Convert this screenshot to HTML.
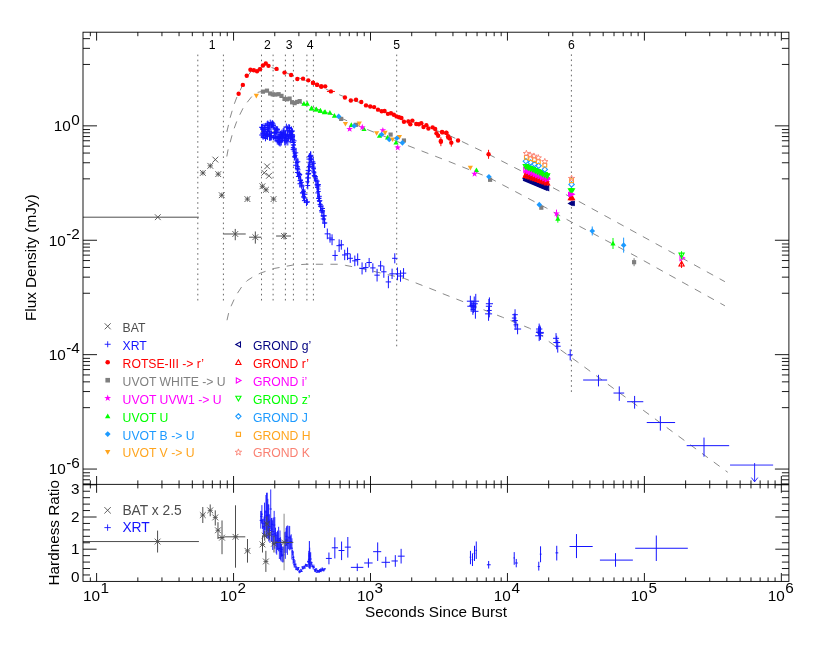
<!DOCTYPE html>
<html><head><meta charset="utf-8"><title>GRB light curve</title>
<style>html,body{margin:0;padding:0;background:#fff}body{width:830px;height:646px;overflow:hidden;font-family:"Liberation Sans",sans-serif}</style>
</head><body>
<svg width="830" height="646" viewBox="0 0 830 646" style="display:block;will-change:transform;opacity:0.999">
<rect width="830" height="646" fill="#ffffff"/>
<g stroke="#6a6a6a" stroke-width="1" stroke-dasharray="1.6 3.49" fill="none">
<line x1="197.8" y1="300.5" x2="197.8" y2="54.0"/>
<line x1="223.4" y1="300.5" x2="223.4" y2="54.0"/>
<line x1="261.5" y1="300.5" x2="261.5" y2="54.0"/>
<line x1="273.1" y1="300.5" x2="273.1" y2="54.0"/>
<line x1="285.4" y1="300.5" x2="285.4" y2="54.0"/>
<line x1="293.4" y1="300.5" x2="293.4" y2="54.0"/>
<line x1="306.9" y1="300.5" x2="306.9" y2="54.0"/>
<line x1="313.4" y1="300.5" x2="313.4" y2="54.0"/>
<line x1="396.7" y1="346.3" x2="396.7" y2="54.0"/>
<line x1="571.4" y1="391.9" x2="571.4" y2="54.0"/>
</g>
<path d="M226.8 132 L228.6 124.6 L230.1 117.8 L232.1 111 L234.2 104.2 L237 96.8 L238.63 93.68 L242.85 84.58 L246.73 76.99 L250.78 71.93 L255.84 69.23 L260.9 67.2 L265.79 65.85" fill="none" stroke="#7c7c7c" stroke-width="0.9" stroke-dasharray="7.3 7.3" stroke-dashoffset="0"/>
<path d="M265.79 65.85 L271.02 67.37 L276.58 69.23 L284.51 71.93 L291.09 74.96 L303.06 79.52 L317.06 84.74 L330.91 91.42 L344.91 96.99 L366 104.91 L396.52 115.88 L428.4 127.35 L449.99 135.78 L458.05 139.64 L488.57 154.31 L524.33 172.52 L579.99 202.04 L634.93 232.17 L724.91 281.68" fill="none" stroke="#7c7c7c" stroke-width="0.9" stroke-dasharray="7.3 7.3" stroke-dashoffset="-5.95"/>
<path d="M226.8 156.5 L228 150 L230.1 142.5 L232.1 135.1 L234.2 128.3 L236.7 121.5 L239.8 114.7 L243.2 107.9 L247.2 102.3 L251.9 96.4 L256.68 92.67 L261.4 91.49 L266.97 91.32 L272.7 93.51 L281.47 96.38 L294.63 101.44 L303.91 103.97 L324.32 111.73 L334.46 115.2 L363.97 128.19 L397.7 141.68 L449.99 161.92 L488.91 177.58 L546.26 207.94 L571.51 222.05 L634.93 255.78 L724.91 305.8" fill="none" stroke="#7c7c7c" stroke-width="0.9" stroke-dasharray="7.3 7.3" stroke-dashoffset="0"/>
<path d="M226.99 320.23 L228.67 312.98 L231.2 305.9 L234.24 299.15 L237.44 293.25 L242.17 286.16 L247.23 280.6 L253.97 276.21 L260.72 273.01 L274.21 268.46 L292.76 265.08 L306.26 264.24 L338.3 264.24 L345.54 265.39 L359.03 267.92 L404.57 278.55 L434.93 290.35 L441.69 293.28 L461.93 301.2 L502.41 317.23 L529.39 328.19 L541.2 334.94 L547.94 340.84 L577.46 361.92 L727.73 472.28" fill="none" stroke="#7c7c7c" stroke-width="0.9" stroke-dasharray="7.3 7.3" stroke-dashoffset="0"/>
<line x1="83" y1="217.2" x2="198.8" y2="217.2" stroke="#4d4d4d" stroke-width="1"/>
<path d="M154.9 214.3L160.7 220.1M154.9 220.1L160.7 214.3" stroke="#4d4d4d" stroke-width="0.9" fill="none"/>
<path d="M199.98 170.04L205.78 175.84M199.98 175.84L205.78 170.04" stroke="#4d4d4d" stroke-width="0.9" fill="none"/>
<path d="M200.28 172.94L205.48 172.94M202.88 170.34L202.88 175.54" stroke="#4d4d4d" stroke-width="0.8" fill="none"/>
<path d="M207.4 162.95L213.2 168.75M207.4 168.75L213.2 162.95" stroke="#4d4d4d" stroke-width="0.9" fill="none"/>
<path d="M207.7 165.85L212.9 165.85M210.3 163.25L210.3 168.45" stroke="#4d4d4d" stroke-width="0.8" fill="none"/>
<path d="M212.46 156.71L218.26 162.51M212.46 162.51L218.26 156.71" stroke="#4d4d4d" stroke-width="0.9" fill="none"/>
<path d="M215.33 171.22L221.13 177.02M215.33 177.02L221.13 171.22" stroke="#4d4d4d" stroke-width="0.9" fill="none"/>
<path d="M215.63 174.12L220.83 174.12M218.23 171.52L218.23 176.72" stroke="#4d4d4d" stroke-width="0.8" fill="none"/>
<path d="M218.87 192.3L224.67 198.1M218.87 198.1L224.67 192.3" stroke="#4d4d4d" stroke-width="0.9" fill="none"/>
<path d="M219.17 195.2L224.37 195.2M221.77 192.6L221.77 197.8" stroke="#4d4d4d" stroke-width="0.8" fill="none"/>
<path d="M244.51 196.18L250.31 201.98M244.51 201.98L250.31 196.18" stroke="#4d4d4d" stroke-width="0.9" fill="none"/>
<path d="M244.81 199.08L250.01 199.08M247.41 196.48L247.41 201.68" stroke="#4d4d4d" stroke-width="0.8" fill="none"/>
<path d="M264.24 163.46L270.04 169.26M264.24 169.26L270.04 163.46" stroke="#4d4d4d" stroke-width="0.9" fill="none"/>
<path d="M261.37 169.87L267.17 175.67M261.37 175.67L267.17 169.87" stroke="#4d4d4d" stroke-width="0.9" fill="none"/>
<path d="M266.09 172.91L271.89 178.71M266.09 178.71L271.89 172.91" stroke="#4d4d4d" stroke-width="0.9" fill="none"/>
<path d="M259.52 183.36L265.32 189.16M259.52 189.16L265.32 183.36" stroke="#4d4d4d" stroke-width="0.9" fill="none"/>
<path d="M259.82 186.26L265.02 186.26M262.42 183.66L262.42 188.86" stroke="#4d4d4d" stroke-width="0.8" fill="none"/>
<path d="M263.06 186.9L268.86 192.7M263.06 192.7L268.86 186.9" stroke="#4d4d4d" stroke-width="0.9" fill="none"/>
<path d="M263.36 189.8L268.56 189.8M265.96 187.2L265.96 192.4" stroke="#4d4d4d" stroke-width="0.8" fill="none"/>
<path d="M270.65 196.18L276.45 201.98M270.65 201.98L276.45 196.18" stroke="#4d4d4d" stroke-width="0.9" fill="none"/>
<path d="M270.95 199.08L276.15 199.08M273.55 196.48L273.55 201.68" stroke="#4d4d4d" stroke-width="0.8" fill="none"/>
<line x1="223.46" y1="233.99" x2="245.72" y2="233.99" stroke="#4d4d4d" stroke-width="1"/>
<line x1="235.26" y1="228.93" x2="235.26" y2="240.23" stroke="#4d4d4d" stroke-width="1"/>
<path d="M232.36 231.09L238.16 236.89M232.36 236.89L238.16 231.09" stroke="#4d4d4d" stroke-width="0.9" fill="none"/>
<line x1="249.09" y1="237.2" x2="261.4" y2="237.2" stroke="#4d4d4d" stroke-width="1"/>
<line x1="255.33" y1="231.46" x2="255.33" y2="243.61" stroke="#4d4d4d" stroke-width="1"/>
<path d="M252.43 234.3L258.23 240.1M252.43 240.1L258.23 234.3" stroke="#4d4d4d" stroke-width="0.9" fill="none"/>
<line x1="276.08" y1="236.02" x2="290.92" y2="236.02" stroke="#4d4d4d" stroke-width="1"/>
<line x1="284" y1="232.64" x2="284" y2="239.39" stroke="#4d4d4d" stroke-width="1"/>
<path d="M281.1 233.12L286.9 238.92M281.1 238.92L286.9 233.12" stroke="#4d4d4d" stroke-width="0.9" fill="none"/>
<g stroke="#1414ff" stroke-width="1" fill="none">
<path d="M259.2 135H263.35M261.27 132.47V137.53"/>
<path d="M259.12 127.25H264.14M261.63 123.97V130.53"/>
<path d="M259.75 127.47H263.93M261.84 123.95V130.99"/>
<path d="M260.07 128.76H264.51M262.29 123.87V133.65"/>
<path d="M260.29 133.2H265.09M262.69 127.88V138.51"/>
<path d="M260.84 137.61H265.42M263.13 135.44V139.77"/>
<path d="M260.43 129.5H266.06M263.25 127.09V131.92"/>
<path d="M261.23 133.8H265.97M263.6 129.77V137.84"/>
<path d="M261.84 125.41H266.25M264.05 123.19V127.63"/>
<path d="M261.84 129.46H267.02M264.43 125.96V132.95"/>
<path d="M262.01 135.86H267.41M264.71 132.81V138.91"/>
<path d="M262.13 132.02H267.88M265 128.01V136.03"/>
<path d="M263.36 138.32H267.6M265.48 135.31V141.33"/>
<path d="M263.25 127.47H268.23M265.74 122.82V132.12"/>
<path d="M263.41 134.61H268.55M265.98 130.27V138.95"/>
<path d="M263.96 134.02H269.15M266.56 130.92V137.11"/>
<path d="M263.87 135.75H269.76M266.82 132.15V139.34"/>
<path d="M264.43 125.61H269.84M267.13 121.29V129.94"/>
<path d="M265.24 134.38H269.81M267.53 128.91V139.86"/>
<path d="M265.34 124.87H270.26M267.8 120.53V129.21"/>
<path d="M265.32 123.84H270.85M268.09 121.43V126.25"/>
<path d="M265.55 129.03H271.29M268.42 126.17V131.9"/>
<path d="M265.87 131.28H271.63M268.75 127.7V134.85"/>
<path d="M266.89 127.79H271.72M269.3 122.76V132.81"/>
<path d="M267.37 135.76H271.67M269.52 130.66V140.85"/>
<path d="M267.33 126.12H272.3M269.81 123.3V128.93"/>
<path d="M267.85 122.54H272.69M270.27 119.62V125.46"/>
<path d="M267.87 136.67H273.25M270.56 132.69V140.65"/>
<path d="M268.89 132.97H273M270.94 128.81V137.14"/>
<path d="M268.6 135.64H274.19M271.39 130.91V140.37"/>
<path d="M268.96 124.81H274.23M271.6 121.42V128.21"/>
<path d="M269.69 125.97H274.02M271.85 123.73V128.2"/>
<path d="M270.12 122.46H274.43M272.27 120.28V124.65"/>
<path d="M269.68 123.81H275.43M272.55 120.54V127.08"/>
<path d="M270.69 127.28H275.39M273.04 124.76V129.8"/>
<path d="M270.32 137.75H276.31M273.32 135.32V140.18"/>
<path d="M271.59 125.41H275.79M273.69 121.71V129.1"/>
<path d="M271.84 137.54H276.16M274 134.62V140.47"/>
<path d="M272.11 132.48H276.4M274.26 127.15V137.81"/>
<path d="M271.77 132.86H277.73M274.75 130.77V134.96"/>
<path d="M272.81 128.98H277.55M275.18 124.55V133.42"/>
<path d="M272.55 133.09H278.11M275.33 128.39V137.79"/>
<path d="M272.74 138.33H278.71M275.72 135.55V141.11"/>
<path d="M273.47 137.7H278.95M276.21 132.88V142.53"/>
<path d="M274.36 130.75H278.41M276.38 126.94V134.56"/>
<path d="M273.98 128.96H279.37M276.68 125.99V131.94"/>
<path d="M274.29 140.98H280.26M277.28 137.42V144.55"/>
<path d="M275.39 129.61H279.85M277.62 126.33V132.89"/>
<path d="M274.86 136.5H280.66M277.76 133.78V139.21"/>
<path d="M275.48 137.36H281.08M278.28 133.69V141.04"/>
<path d="M275.63 140.62H281.2M278.42 136.31V144.93"/>
<path d="M276.16 132.31H281.73M278.95 128.64V135.98"/>
<path d="M276.78 141.3H281.57M279.18 136.5V146.1"/>
<path d="M277.37 139.03H281.71M279.54 133.72V144.35"/>
<path d="M277 142.44H282.62M279.81 139.91V144.97"/>
<path d="M277.5 141.64H282.82M280.16 136.75V146.53"/>
<path d="M278.55 134.68H282.57M280.56 130.76V138.6"/>
<path d="M278.14 138.09H284.01M281.08 133.81V142.36"/>
<path d="M279.06 140.5H283.49M281.27 135.45V145.55"/>
<path d="M278.98 134.46H284.16M281.57 131.44V137.49"/>
<path d="M279.01 133.05H284.83M281.92 129.58V136.51"/>
<path d="M279.38 138.28H285.19M282.29 134.67V141.88"/>
<path d="M280.12 137.01H285.18M282.65 131.8V142.22"/>
<path d="M280.84 135.8H285.21M283.02 133.74V137.87"/>
<path d="M280.75 132.91H285.7M283.23 128.11V137.7"/>
<path d="M281.25 133.86H286.29M283.77 129.91V137.81"/>
<path d="M281.51 131.1H286.63M284.07 126.36V135.85"/>
<path d="M281.82 139.88H286.84M284.33 136.91V142.85"/>
<path d="M282.32 140.76H287.2M284.76 136.1V145.42"/>
<path d="M282.43 135.26H287.81M285.12 131.49V139.03"/>
<path d="M282.48 134.51H288.36M285.42 130.64V138.38"/>
<path d="M283.57 140.53H288.09M285.83 135.46V145.59"/>
<path d="M284 138.88H288.28M286.14 133.58V144.18"/>
<path d="M284.12 127.21H288.61M286.36 123.66V130.76"/>
<path d="M283.8 138.47H289.59M286.7 134.12V142.81"/>
<path d="M284.92 136.59H289.21M287.06 132.08V141.1"/>
<path d="M284.66 130.86H290.56M287.61 125.47V136.25"/>
<path d="M284.99 141.75H290.65M287.82 138.05V145.46"/>
<path d="M285.76 134.66H290.44M288.1 131.15V138.17"/>
<path d="M286.44 137.91H290.48M288.46 134.8V141.03"/>
<path d="M286.57 127.55H291.23M288.9 124V131.09"/>
<path d="M286.28 128.55H292.25M289.26 124.76V132.35"/>
<path d="M287.39 130.29H291.92M289.66 124.89V135.7"/>
<path d="M287.66 131.9H291.92M289.79 127.17V136.63"/>
<path d="M287.99 138.15H292.5M290.24 132.96V143.34"/>
<path d="M287.81 135.65H293.21M290.51 130.43V140.86"/>
<path d="M288.42 138H293.27M290.84 135.8V140.21"/>
<path d="M288.38 136.77H293.98M291.18 131.49V142.06"/>
<path d="M288.67 131.48H294.39M291.53 126.48V136.47"/>
<path d="M289.05 136.78H294.91M291.98 133.59V139.96"/>
<path d="M290.03 136.72H294.51M292.27 134.27V139.18"/>
<path d="M290.37 130.9H294.78M292.57 128.34V133.47"/>
<path d="M289.62 134.61H294.84M292.23 131.6V137.63"/>
<path d="M290.58 135.69H295.13M292.86 133.44V137.94"/>
<path d="M289.85 136.66H295.02M292.43 132.92V140.41"/>
<path d="M289.71 139.5H295.21M292.46 137V142"/>
<path d="M291.75 140.83H296.54M294.15 136.29V145.37"/>
<path d="M290.75 142.51H295.85M293.3 137.56V147.47"/>
<path d="M290.79 144.95H295.92M293.35 140.97V148.93"/>
<path d="M291.64 144.95H295.73M293.68 142.39V147.52"/>
<path d="M290.88 147.59H295.29M293.09 144.93V150.25"/>
<path d="M290.63 149.35H296.03M293.33 145.27V153.42"/>
<path d="M291.78 149H296.25M294.01 145.52V152.49"/>
<path d="M291.71 151.07H296.13M293.92 146.18V155.96"/>
<path d="M293.89 152.83H298.28M296.08 147.92V157.73"/>
<path d="M292.7 153.71H296.7M294.7 150.44V156.98"/>
<path d="M293.14 155.6H297.47M295.3 151.99V159.22"/>
<path d="M292.31 156.34H296.46M294.38 153.02V159.66"/>
<path d="M292.44 157.07H296.92M294.68 154.22V159.92"/>
<path d="M293.63 160.04H298.83M296.23 156V164.08"/>
<path d="M294.52 162.53H299.14M296.83 159.42V165.64"/>
<path d="M295.18 161.78H300.34M297.76 157.78V165.78"/>
<path d="M293.08 165.28H298.51M295.79 161.33V169.24"/>
<path d="M295.62 166.65H299.85M297.74 162.99V170.32"/>
<path d="M294.83 168.16H300.12M297.47 163.65V172.68"/>
<path d="M295.41 169.78H300.5M297.95 165.64V173.92"/>
<path d="M295.28 168.63H299.5M297.39 165.42V171.84"/>
<path d="M294.93 172.49H299.83M297.38 168.53V176.45"/>
<path d="M296.55 173.46H301.33M298.94 171.25V175.67"/>
<path d="M297.26 175.1H302.06M299.66 171.4V178.8"/>
<path d="M297.04 174.49H302.22M299.63 171.58V177.4"/>
<path d="M295.95 176.52H301.12M298.54 173.75V179.3"/>
<path d="M298.05 180.09H302.84M300.44 176.82V183.36"/>
<path d="M297.51 180.65H302.74M300.12 176.73V184.58"/>
<path d="M298.71 180.27H302.94M300.83 177.36V183.18"/>
<path d="M298.92 182.39H303.83M301.37 180.15V184.62"/>
<path d="M297.51 183.72H302.58M300.04 179.58V187.86"/>
<path d="M299.44 185.22H304.27M301.85 181.71V188.72"/>
<path d="M299.06 186.11H304.49M301.77 183.35V188.86"/>
<path d="M301.41 189.97H305.44M303.42 186.48V193.45"/>
<path d="M301.11 191.47H305.83M303.47 188.52V194.42"/>
<path d="M300.26 192.81H304.59M302.42 188.98V196.64"/>
<path d="M299.92 192.95H305.45M302.68 190.38V195.52"/>
<path d="M302.02 194.31H307.44M304.73 190.14V198.48"/>
<path d="M301.36 196.89H306.14M303.75 194.62V199.16"/>
<path d="M301.32 197.06H306.04M303.68 194.01V200.1"/>
<path d="M302.23 198.01H306.74M304.48 193.45V202.56"/>
<path d="M301.95 200.62H307.3M304.63 198.08V203.15"/>
<path d="M304.6 201.89H310.04M307.32 198.88V204.91"/>
<path d="M303.67 202.32H309.27M306.47 198.47V206.17"/>
<path d="M305.33 185.53H310.19M307.76 181.71V189.36"/>
<path d="M305.35 181.75H309.55M307.45 176.24V187.25"/>
<path d="M305.08 177.96H310.95M308.02 174.21V181.71"/>
<path d="M305.66 174.18H310.69M308.18 170.61V177.75"/>
<path d="M305.65 170.4H311.56M308.61 164.74V176.05"/>
<path d="M306.95 166.62H312.21M309.58 160.88V172.36"/>
<path d="M307.51 162.84H312.61M310.06 157.68V168"/>
<path d="M306.41 159.08H311.87M309.14 154.73V163.44"/>
<path d="M308.16 155.33H313.45M310.8 151.47V159.19"/>
<path d="M305.59 173.45H311.19M308.39 163.45V183.45"/>
<path d="M315.25 184.52H320.85M318.05 179.52V189.52"/>
<path d="M307.3 156.61H311.51M309.41 153.09V160.13"/>
<path d="M307.93 156.36H313.11M310.52 151.43V161.29"/>
<path d="M308.56 159.07H313.05M310.8 155.31V162.83"/>
<path d="M309.44 159.24H313.7M311.57 156.46V162.02"/>
<path d="M310.98 161.86H315.34M313.16 157.12V166.6"/>
<path d="M311.64 163.37H315.87M313.75 160.63V166.11"/>
<path d="M310.05 164.71H314.2M312.12 161.84V167.58"/>
<path d="M310.14 167.05H315.56M312.85 162.75V171.35"/>
<path d="M311.14 168.25H315.98M313.56 164.99V171.5"/>
<path d="M311.53 168.85H315.98M313.75 163.94V173.76"/>
<path d="M311.15 171.84H316.15M313.65 167.22V176.45"/>
<path d="M312.01 172.8H316.41M314.21 169.48V176.12"/>
<path d="M312.35 176.52H317.7M315.03 171.88V181.16"/>
<path d="M311.84 175.43H316.97M314.4 170.72V180.13"/>
<path d="M313.71 178.76H317.71M315.71 175.46V182.06"/>
<path d="M314.33 181.15H319.7M317.01 176.23V186.07"/>
<path d="M313.71 180.67H317.96M315.83 177.01V184.33"/>
<path d="M314.52 184.84H319.67M317.1 180.83V188.85"/>
<path d="M315.15 185.06H320.03M317.59 182.75V187.37"/>
<path d="M315.2 186.05H320.67M317.94 182.05V190.06"/>
<path d="M315.02 187.41H319.42M317.22 183.42V191.39"/>
<path d="M316.39 189.02H320.5M318.45 185.35V192.69"/>
<path d="M316.37 191.51H320.73M318.55 187.63V195.39"/>
<path d="M315.28 192.91H320.01M317.65 188.03V197.8"/>
<path d="M317.02 196.32H321.78M319.4 193.46V199.18"/>
<path d="M316.31 198.21H321.44M318.88 195.15V201.27"/>
<path d="M316.2 198.49H321.28M318.74 195.11V201.86"/>
<path d="M316.87 200.66H322.35M319.61 197.82V203.49"/>
<path d="M317.14 201.33H321.81M319.48 197.22V205.44"/>
<path d="M317.58 204.38H322.76M320.17 200.76V207.99"/>
<path d="M318.27 206.56H322.77M320.52 202.06V211.06"/>
<path d="M318.3 205.98H323.52M320.91 202.96V209.01"/>
<path d="M320.68 208.47H324.98M322.83 205.65V211.3"/>
<path d="M319.23 210.65H324.74M321.99 208.04V213.26"/>
<path d="M319.49 210.96H325.05M322.27 208.36V213.55"/>
<path d="M319.53 212.17H324.16M321.85 207.45V216.88"/>
<path d="M321.28 215.83H326.88M324.08 211.03V220.64"/>
<path d="M320.52 215.84H326.02M323.27 211.55V220.13"/>
<path d="M320.73 218.93H325.33M323.03 215.68V222.17"/>
<path d="M322.1 219.09H326.1M324.1 216.11V222.07"/>
<path d="M322.46 223.1H326.66M324.56 218.2V228"/>
<path d="M322 222.95H327.31M324.65 218.45V227.45"/>
<path d="M324.62 233.85H330.02M327.32 228.49V239.22"/>
<path d="M327.32 238.07H332.72M330.02 233.47V242.67"/>
<path d="M329.35 239.76H334.75M332.05 234.31V245.2"/>
<path d="M332.38 255.44H337.78M335.08 250.2V260.69"/>
<path d="M336.43 245.66H341.83M339.13 239.32V252"/>
<path d="M338.62 244.82H344.02M341.32 239.93V249.7"/>
<path d="M342 254.94H347.4M344.7 249.71V260.16"/>
<path d="M344.86 253.75H350.26M347.56 247.46V260.05"/>
<path d="M347.56 258.31H352.96M350.26 253.75V262.87"/>
<path d="M352.12 260.84H357.52M354.82 255.52V266.16"/>
<path d="M354.98 259.49H360.38M357.68 253.37V265.61"/>
<path d="M359.37 268.43H364.77M362.07 262.39V274.46"/>
<path d="M363.08 267.58H368.48M365.78 263V272.17"/>
<path d="M366.45 262.52H371.85M369.15 257.96V267.09"/>
<path d="M370.16 267.92H375.56M372.86 263.3V272.55"/>
<path d="M374.38 275.17H379.78M377.08 268.83V281.51"/>
<path d="M377.92 265.9H383.32M380.62 260.88V270.91"/>
<path d="M381.13 271.8H386.53M383.83 265.81V277.8"/>
<path d="M385.68 281.92H391.08M388.38 275.62V288.22"/>
<path d="M389.39 273.83H394.79M392.09 268.65V279"/>
<path d="M392.09 258.31H397.49M394.79 253.26V263.35"/>
<path d="M394.79 273.83H400.19M397.49 267.41V280.24"/>
<path d="M397.82 276.02H403.22M400.52 270.28V281.75"/>
<path d="M400.86 273.15H406.26M403.56 268.13V278.17"/>
<path d="M466.87 301.2H473.85M470.36 295.75V306.65"/>
<path d="M469.35 305.42H474.74M472.05 300.91V309.93"/>
<path d="M470.68 303.73H477.8M474.24 296.48V310.98"/>
<path d="M472.42 301.2H479.1M475.76 293.87V308.53"/>
<path d="M470.65 309.64H475.13M472.89 304.43V314.84"/>
<path d="M472.36 311.32H478.47M475.42 303.95V318.69"/>
<path d="M467.29 306.26H475.12M471.2 300.6V311.92"/>
<path d="M470.74 307.11H476.05M473.4 301.32V312.9"/>
<path d="M485.82 306.26H492M488.91 298.98V313.55"/>
<path d="M486.72 310.48H491.78M489.25 303.57V317.39"/>
<path d="M485.05 313.85H492.1M488.57 306.88V320.82"/>
<path d="M485.83 303.73H493.01M489.42 297.41V310.05"/>
<path d="M512.26 314.7H517.84M515.05 309.24V320.15"/>
<path d="M512.2 320.6H517.91M515.05 313.75V327.45"/>
<path d="M513.56 324.82H518.24M515.9 319.72V329.91"/>
<path d="M514.03 329.03H521.14M517.58 323.79V334.27"/>
<path d="M511.89 318.07H516.53M514.21 313.47V322.67"/>
<path d="M535.98 329.03H542.37M539.17 323.55V334.51"/>
<path d="M535.88 332.41H543.81M539.85 325.25V339.56"/>
<path d="M535.2 335.78H543.15M539.17 330.48V341.07"/>
<path d="M536.32 331.06H541.02M538.67 326.27V335.85"/>
<path d="M537.43 333.25H543.62M540.52 326.62V339.88"/>
<path d="M553.04 338.31H559.04M556.04 333.11V343.51"/>
<path d="M554.78 346.24H560.68M557.73 339.87V352.6"/>
<path d="M553.3 342.52H560.13M556.71 335.78V349.27"/>
<path d="M567.61 354.84H572.81M570.21 349.34V360.34"/>
<path d="M583.13 380.03H607.14M598.46 374.82V386.39"/>
<path d="M613.5 393.04H624.2M619.28 386.39V400.85"/>
<path d="M627.09 401.72H643.29M634.61 395.93V408.66"/>
<path d="M646.76 422.54H675.1M660.35 416.18V430.64"/>
<path d="M686.66 445.67H729.17M704.01 437.58V456.66"/>
<path d="M730.04 465.05H773.13M754.62 463.05V481.8M751.42 477.6L754.62 481.8L757.82 477.6" stroke-width="0.9"/>
</g>
<circle cx="238.63" cy="93.68" r="2.2" fill="#ff0000"/>
<circle cx="242.85" cy="84.91" r="2.2" fill="#ff0000"/>
<circle cx="246.73" cy="75.81" r="2.2" fill="#ff0000"/>
<circle cx="250.44" cy="69.73" r="2.2" fill="#ff0000"/>
<circle cx="253.81" cy="70.24" r="2.2" fill="#ff0000"/>
<circle cx="257.02" cy="71.25" r="2.2" fill="#ff0000"/>
<circle cx="260.05" cy="69.23" r="2.2" fill="#ff0000"/>
<circle cx="262.92" cy="65.52" r="2.2" fill="#ff0000"/>
<circle cx="265.79" cy="63.49" r="2.2" fill="#ff0000"/>
<circle cx="268.49" cy="65.85" r="2.2" fill="#ff0000"/>
<circle cx="276.58" cy="68.89" r="2.2" fill="#ff0000"/>
<circle cx="284.51" cy="72.6" r="2.2" fill="#ff0000"/>
<circle cx="291.09" cy="74.96" r="2.2" fill="#ff0000"/>
<circle cx="297.33" cy="79.01" r="2.2" fill="#ff0000"/>
<circle cx="303.06" cy="78.67" r="2.2" fill="#ff0000"/>
<circle cx="308.29" cy="80.36" r="2.2" fill="#ff0000"/>
<circle cx="313.01" cy="82.89" r="2.2" fill="#ff0000"/>
<circle cx="317.06" cy="84.74" r="2.2" fill="#ff0000"/>
<circle cx="321.28" cy="86.43" r="2.2" fill="#ff0000"/>
<circle cx="313.04" cy="82.65" r="2.2" fill="#ff0000"/>
<circle cx="317.08" cy="84.84" r="2.2" fill="#ff0000"/>
<circle cx="321.3" cy="86.53" r="2.2" fill="#ff0000"/>
<circle cx="325.18" cy="86.36" r="2.2" fill="#ff0000"/>
<circle cx="330.91" cy="91.42" r="2.2" fill="#ff0000"/>
<circle cx="344.91" cy="97.49" r="2.2" fill="#ff0000"/>
<circle cx="350.82" cy="100.53" r="2.2" fill="#ff0000"/>
<circle cx="356.04" cy="99.68" r="2.2" fill="#ff0000"/>
<circle cx="361.27" cy="102.05" r="2.2" fill="#ff0000"/>
<circle cx="366" cy="105.42" r="2.2" fill="#ff0000"/>
<circle cx="370.21" cy="106.43" r="2.2" fill="#ff0000"/>
<circle cx="374.09" cy="107.11" r="2.2" fill="#ff0000"/>
<circle cx="377.97" cy="109.64" r="2.2" fill="#ff0000"/>
<circle cx="381.68" cy="111.32" r="2.2" fill="#ff0000"/>
<circle cx="384.55" cy="110.98" r="2.2" fill="#ff0000"/>
<circle cx="387.92" cy="113.85" r="2.2" fill="#ff0000"/>
<circle cx="390.96" cy="113.18" r="2.2" fill="#ff0000"/>
<circle cx="393.83" cy="114.7" r="2.2" fill="#ff0000"/>
<circle cx="396.52" cy="116.38" r="2.2" fill="#ff0000"/>
<circle cx="399.05" cy="117.23" r="2.2" fill="#ff0000"/>
<circle cx="401.42" cy="118.07" r="2.2" fill="#ff0000"/>
<circle cx="403.95" cy="121.78" r="2.2" fill="#ff0000"/>
<circle cx="408.33" cy="121.44" r="2.2" fill="#ff0000"/>
<circle cx="410.35" cy="124.31" r="2.2" fill="#ff0000"/>
<circle cx="412.38" cy="120.6" r="2.2" fill="#ff0000"/>
<circle cx="416.26" cy="123.97" r="2.2" fill="#ff0000"/>
<circle cx="418.79" cy="124.31" r="2.2" fill="#ff0000"/>
<circle cx="421.32" cy="123.13" r="2.2" fill="#ff0000"/>
<circle cx="423.51" cy="127.01" r="2.2" fill="#ff0000"/>
<circle cx="426.38" cy="125.15" r="2.2" fill="#ff0000"/>
<circle cx="428.4" cy="128.53" r="2.2" fill="#ff0000"/>
<circle cx="432.62" cy="127.35" r="2.2" fill="#ff0000"/>
<circle cx="435.15" cy="129.03" r="2.2" fill="#ff0000"/>
<circle cx="436.5" cy="133.25" r="2.2" fill="#ff0000"/>
<circle cx="438.18" cy="135.78" r="2.2" fill="#ff0000"/>
<circle cx="440.88" cy="141.68" r="2.2" fill="#ff0000"/>
<circle cx="442.4" cy="132.41" r="2.2" fill="#ff0000"/>
<circle cx="446.28" cy="132.74" r="2.2" fill="#ff0000"/>
<circle cx="448.3" cy="137.47" r="2.2" fill="#ff0000"/>
<line x1="326.91" y1="91.42" x2="334.91" y2="91.42" stroke="#ff0000" stroke-width="1"/>
<line x1="440.88" y1="137.18" x2="440.88" y2="146.18" stroke="#ff0000" stroke-width="1"/>
<circle cx="442.02" cy="132.05" r="2.2" fill="#ff0000"/>
<circle cx="446.41" cy="132.89" r="2.2" fill="#ff0000"/>
<circle cx="440.84" cy="140.98" r="2.2" fill="#ff0000"/>
<circle cx="448.1" cy="136.26" r="2.2" fill="#ff0000"/>
<circle cx="449.78" cy="138.46" r="2.2" fill="#ff0000"/>
<circle cx="451.3" cy="142.67" r="2.2" fill="#ff0000"/>
<circle cx="458.05" cy="140.48" r="2.2" fill="#ff0000"/>
<circle cx="488.57" cy="154.31" r="2.2" fill="#ff0000"/>
<line x1="451.3" y1="138.67" x2="451.3" y2="146.67" stroke="#ff0000" stroke-width="1"/>
<line x1="488.57" y1="149.81" x2="488.57" y2="158.81" stroke="#ff0000" stroke-width="1"/>
<polygon points="260.82,89.56 265.02,89.56 265.02,93.76 260.82,93.76" fill="#7f7f7f"/>
<polygon points="264.87,88.55 269.07,88.55 269.07,92.75 264.87,92.75" fill="#7f7f7f"/>
<polygon points="268.07,91.41 272.27,91.41 272.27,95.61 268.07,95.61" fill="#7f7f7f"/>
<polygon points="270.6,92.26 274.8,92.26 274.8,96.46 270.6,96.46" fill="#7f7f7f"/>
<polygon points="273.13,92.43 277.33,92.43 277.33,96.63 273.13,96.63" fill="#7f7f7f"/>
<polygon points="276.51,92.09 280.71,92.09 280.71,96.29 276.51,96.29" fill="#7f7f7f"/>
<polygon points="279.37,93.78 283.57,93.78 283.57,97.98 279.37,97.98" fill="#7f7f7f"/>
<polygon points="282.41,96.81 286.61,96.81 286.61,101.01 282.41,101.01" fill="#7f7f7f"/>
<polygon points="284.94,97.15 289.14,97.15 289.14,101.35 284.94,101.35" fill="#7f7f7f"/>
<polygon points="287.47,96.47 291.67,96.47 291.67,100.67 287.47,100.67" fill="#7f7f7f"/>
<polygon points="290,100.19 294.2,100.19 294.2,104.39 290,104.39" fill="#7f7f7f"/>
<polygon points="292.53,101.03 296.73,101.03 296.73,105.23 292.53,105.23" fill="#7f7f7f"/>
<polygon points="295.06,99.85 299.26,99.85 299.26,104.05 295.06,104.05" fill="#7f7f7f"/>
<polygon points="297.59,99 301.79,99 301.79,103.2 297.59,103.2" fill="#7f7f7f"/>
<polygon points="256.34,98.48 258.94,93.8 253.74,93.8" fill="#ffa51e"/>
<polygon points="303.91,101.03 306.51,105.71 301.31,105.71" fill="#00ff00"/>
<polygon points="307.28,101.03 309.88,105.71 304.68,105.71" fill="#00ff00"/>
<polygon points="311.5,105.59 314.1,110.27 308.9,110.27" fill="#00ff00"/>
<polygon points="316.22,106.77 318.82,111.45 313.62,111.45" fill="#00ff00"/>
<polygon points="320.27,108.12 322.87,112.8 317.67,112.8" fill="#00ff00"/>
<polygon points="324.32,109.47 326.92,114.15 321.72,114.15" fill="#00ff00"/>
<polygon points="311.69,105.86 314.29,110.54 309.09,110.54" fill="#00ff00"/>
<polygon points="316.24,106.53 318.84,111.21 313.64,111.21" fill="#00ff00"/>
<polygon points="320.46,108.05 323.06,112.73 317.86,112.73" fill="#00ff00"/>
<polygon points="325.18,109.23 327.78,113.91 322.58,113.91" fill="#00ff00"/>
<polygon points="329.9,110.07 332.5,114.75 327.3,114.75" fill="#00ff00"/>
<polygon points="334.46,113.11 337.06,117.79 331.86,117.79" fill="#00ff00"/>
<polygon points="339.1,116.81 343.3,116.81 343.3,121.01 339.1,121.01" fill="#7f7f7f"/>
<polygon points="338.67,113.58 341.47,116.38 338.67,119.18 335.87,116.38" fill="#1c9aff"/>
<polygon points="345.42,126.57 348.02,121.89 342.82,121.89" fill="#ffa51e"/>
<polygon points="351.32,122.22 353.92,126.9 348.72,126.9" fill="#00ff00"/>
<polygon points="353.78,122.72 357.98,122.72 357.98,126.92 353.78,126.92" fill="#7f7f7f"/>
<polygon points="354.19,123.2 356.99,126 354.19,128.8 351.39,126" fill="#1c9aff"/>
<polygon points="359.25,126.23 361.85,121.55 356.65,121.55" fill="#ffa51e"/>
<polygon points="349.64,125.53 350.46,127.9 352.96,127.95 350.97,129.46 351.69,131.86 349.64,130.43 347.58,131.86 348.3,129.46 346.31,127.95 348.81,127.9" fill="#ff00ff"/>
<polygon points="363.97,126.43 366.57,131.11 361.37,131.11" fill="#00ff00"/>
<polygon points="362.29,123.85 363.11,126.21 365.61,126.26 363.62,127.78 364.34,130.18 362.29,128.75 360.23,130.18 360.95,127.78 358.96,126.26 361.46,126.21" fill="#ff00ff"/>
<polygon points="376.62,135.85 379.22,131.17 374.02,131.17" fill="#ffa51e"/>
<polygon points="379.49,133.18 382.09,137.86 376.89,137.86" fill="#00ff00"/>
<polygon points="382.86,126.88 383.69,129.25 386.19,129.3 384.19,130.81 384.92,133.21 382.86,131.78 380.8,133.21 381.53,130.81 379.53,129.3 382.04,129.25" fill="#ff00ff"/>
<polygon points="385.05,135.51 387.65,130.83 382.45,130.83" fill="#ffa51e"/>
<polygon points="381.68,131.63 384.48,134.43 381.68,137.23 378.88,134.43" fill="#1c9aff"/>
<polygon points="388.52,132.5 392.72,132.5 392.72,136.7 388.52,136.7" fill="#7f7f7f"/>
<polygon points="387.58,134.87 390.18,139.55 384.98,139.55" fill="#00ff00"/>
<polygon points="389.27,136.69 392.07,139.49 389.27,142.29 386.47,139.49" fill="#1c9aff"/>
<polygon points="392.64,142.09 395.24,137.41 390.04,137.41" fill="#ffa51e"/>
<polygon points="399.39,139.73 401.99,135.05 396.79,135.05" fill="#ffa51e"/>
<polygon points="396.86,135.51 399.66,138.31 396.86,141.11 394.06,138.31" fill="#1c9aff"/>
<polygon points="396.02,139.92 398.62,144.6 393.42,144.6" fill="#00ff00"/>
<polygon points="401.85,138.4 406.05,138.4 406.05,142.6 401.85,142.6" fill="#7f7f7f"/>
<polygon points="402.43,140.06 405.23,142.86 402.43,145.66 399.63,142.86" fill="#1c9aff"/>
<polygon points="397.7,144.08 398.53,146.45 401.03,146.5 399.04,148.02 399.76,150.42 397.7,148.98 395.65,150.42 396.37,148.02 394.38,146.5 396.88,146.45" fill="#ff00ff"/>
<polygon points="470.36,170.4 472.96,165.72 467.76,165.72" fill="#ffa51e"/>
<polygon points="476.43,167.39 479.03,172.07 473.83,172.07" fill="#00ff00"/>
<polygon points="474.58,170.37 475.4,172.74 477.9,172.79 475.91,174.31 476.63,176.71 474.58,175.27 472.52,176.71 473.24,174.31 471.25,172.79 473.75,172.74" fill="#ff00ff"/>
<polygon points="487.99,177.68 492.19,177.68 492.19,181.88 487.99,181.88" fill="#7f7f7f"/>
<polygon points="488.91,173.94 491.71,176.74 488.91,179.54 486.11,176.74" fill="#1c9aff"/>
<polygon points="539.22,205.61 543.42,205.61 543.42,209.81 539.22,209.81" fill="#7f7f7f"/>
<polygon points="539.3,201.87 542.1,204.67 539.3,207.47 536.5,204.67" fill="#1c9aff"/>
<line x1="556.5" y1="209.61" x2="556.5" y2="217.61" stroke="#ff00ff" stroke-width="1"/>
<polygon points="556.5,210.11 557.32,212.48 559.83,212.53 557.83,214.05 558.56,216.44 556.5,215.01 554.44,216.44 555.17,214.05 553.17,212.53 555.68,212.48" fill="#ff00ff"/>
<line x1="557.85" y1="214.67" x2="557.85" y2="222.67" stroke="#00ff00" stroke-width="1"/>
<polygon points="557.85,216.07 560.45,220.75 555.25,220.75" fill="#00ff00"/>
<line x1="592.26" y1="226.48" x2="592.26" y2="235.48" stroke="#1c9aff" stroke-width="1"/>
<polygon points="592.26,228.18 595.06,230.98 592.26,233.78 589.46,230.98" fill="#1c9aff"/>
<line x1="613" y1="237.97" x2="613" y2="248.97" stroke="#00ff00" stroke-width="1"/>
<polygon points="613,240.87 615.6,245.55 610.4,245.55" fill="#00ff00"/>
<line x1="623.63" y1="237.65" x2="623.63" y2="252.65" stroke="#1c9aff" stroke-width="1"/>
<polygon points="623.63,242.35 626.43,245.15 623.63,247.95 620.83,245.15" fill="#1c9aff"/>
<line x1="634.09" y1="258.19" x2="634.09" y2="266.19" stroke="#7f7f7f" stroke-width="1"/>
<polygon points="631.99,260.09 636.19,260.09 636.19,264.29 631.99,264.29" fill="#7f7f7f"/>
<line x1="523.67" y1="178.57" x2="548.16" y2="188.76" stroke="#000080" stroke-width="4.8" stroke-linecap="butt"/>
<line x1="523.89" y1="174.67" x2="548.81" y2="183.34" stroke="#ff0000" stroke-width="4.6" stroke-linecap="butt"/>
<line x1="524.54" y1="169.8" x2="549.24" y2="179.66" stroke="#ff00ff" stroke-width="5" stroke-linecap="butt"/>
<line x1="524.1" y1="165.79" x2="549.02" y2="176.41" stroke="#00ff00" stroke-width="5" stroke-linecap="butt"/>
<polygon points="523.02,178.79 527.7,176.19 527.7,181.39" fill="none" stroke="#000080" stroke-width="1.1"/>
<polygon points="525.35,179.81 530.03,177.21 530.03,182.41" fill="none" stroke="#000080" stroke-width="1.1"/>
<polygon points="527.69,180.84 532.37,178.24 532.37,183.44" fill="none" stroke="#000080" stroke-width="1.1"/>
<polygon points="530.03,181.86 534.71,179.26 534.71,184.46" fill="none" stroke="#000080" stroke-width="1.1"/>
<polygon points="532.36,182.88 537.04,180.28 537.04,185.48" fill="none" stroke="#000080" stroke-width="1.1"/>
<polygon points="534.7,183.91 539.38,181.31 539.38,186.51" fill="none" stroke="#000080" stroke-width="1.1"/>
<polygon points="537.03,184.93 541.71,182.33 541.71,187.53" fill="none" stroke="#000080" stroke-width="1.1"/>
<polygon points="539.37,185.95 544.05,183.35 544.05,188.55" fill="none" stroke="#000080" stroke-width="1.1"/>
<polygon points="541.7,186.98 546.38,184.38 546.38,189.58" fill="none" stroke="#000080" stroke-width="1.1"/>
<polygon points="544.04,188 548.72,185.4 548.72,190.6" fill="none" stroke="#000080" stroke-width="1.1"/>
<polygon points="525.84,172.72 528.44,177.4 523.24,177.4" fill="none" stroke="#ff0000" stroke-width="1.1"/>
<polygon points="528.2,173.55 530.8,178.23 525.6,178.23" fill="none" stroke="#ff0000" stroke-width="1.1"/>
<polygon points="530.55,174.38 533.15,179.06 527.95,179.06" fill="none" stroke="#ff0000" stroke-width="1.1"/>
<polygon points="532.91,175.22 535.51,179.9 530.31,179.9" fill="none" stroke="#ff0000" stroke-width="1.1"/>
<polygon points="535.27,176.05 537.87,180.73 532.67,180.73" fill="none" stroke="#ff0000" stroke-width="1.1"/>
<polygon points="537.63,176.88 540.23,181.56 535.03,181.56" fill="none" stroke="#ff0000" stroke-width="1.1"/>
<polygon points="539.99,177.71 542.59,182.39 537.39,182.39" fill="none" stroke="#ff0000" stroke-width="1.1"/>
<polygon points="542.35,178.54 544.95,183.22 539.75,183.22" fill="none" stroke="#ff0000" stroke-width="1.1"/>
<polygon points="544.71,179.37 547.31,184.05 542.11,184.05" fill="none" stroke="#ff0000" stroke-width="1.1"/>
<polygon points="547.07,180.2 549.67,184.88 544.47,184.88" fill="none" stroke="#ff0000" stroke-width="1.1"/>
<polygon points="528.44,170.01 523.76,167.41 523.76,172.61" fill="none" stroke="#ff00ff" stroke-width="1.1"/>
<polygon points="530.82,171.01 526.14,168.41 526.14,173.61" fill="none" stroke="#ff00ff" stroke-width="1.1"/>
<polygon points="533.2,172.01 528.52,169.41 528.52,174.61" fill="none" stroke="#ff00ff" stroke-width="1.1"/>
<polygon points="535.59,173.01 530.91,170.41 530.91,175.61" fill="none" stroke="#ff00ff" stroke-width="1.1"/>
<polygon points="537.97,174.01 533.29,171.41 533.29,176.61" fill="none" stroke="#ff00ff" stroke-width="1.1"/>
<polygon points="540.35,175.01 535.67,172.41 535.67,177.61" fill="none" stroke="#ff00ff" stroke-width="1.1"/>
<polygon points="542.74,176.01 538.06,173.41 538.06,178.61" fill="none" stroke="#ff00ff" stroke-width="1.1"/>
<polygon points="545.12,177.01 540.44,174.41 540.44,179.61" fill="none" stroke="#ff00ff" stroke-width="1.1"/>
<polygon points="547.51,178.01 542.83,175.41 542.83,180.61" fill="none" stroke="#ff00ff" stroke-width="1.1"/>
<polygon points="549.89,179.01 545.21,176.41 545.21,181.61" fill="none" stroke="#ff00ff" stroke-width="1.1"/>
<polygon points="525.84,169.15 528.44,164.47 523.24,164.47" fill="none" stroke="#00ff00" stroke-width="1.1"/>
<polygon points="528.2,170.17 530.8,165.49 525.6,165.49" fill="none" stroke="#00ff00" stroke-width="1.1"/>
<polygon points="530.55,171.19 533.15,166.51 527.95,166.51" fill="none" stroke="#00ff00" stroke-width="1.1"/>
<polygon points="532.91,172.22 535.51,167.54 530.31,167.54" fill="none" stroke="#00ff00" stroke-width="1.1"/>
<polygon points="535.27,173.24 537.87,168.56 532.67,168.56" fill="none" stroke="#00ff00" stroke-width="1.1"/>
<polygon points="537.63,174.26 540.23,169.58 535.03,169.58" fill="none" stroke="#00ff00" stroke-width="1.1"/>
<polygon points="539.99,175.29 542.59,170.61 537.39,170.61" fill="none" stroke="#00ff00" stroke-width="1.1"/>
<polygon points="542.35,176.31 544.95,171.63 539.75,171.63" fill="none" stroke="#00ff00" stroke-width="1.1"/>
<polygon points="544.71,177.33 547.31,172.65 542.11,172.65" fill="none" stroke="#00ff00" stroke-width="1.1"/>
<polygon points="547.07,178.36 549.67,173.68 544.47,173.68" fill="none" stroke="#00ff00" stroke-width="1.1"/>
<polygon points="525.84,158.43 528.54,161.13 525.84,163.83 523.14,161.13" fill="none" stroke="#1c9aff" stroke-width="1.1"/>
<polygon points="530.71,159.84 533.41,162.54 530.71,165.24 528.01,162.54" fill="none" stroke="#1c9aff" stroke-width="1.1"/>
<polygon points="534.5,161.35 537.2,164.05 534.5,166.75 531.8,164.05" fill="none" stroke="#1c9aff" stroke-width="1.1"/>
<polygon points="538.62,163.09 541.32,165.79 538.62,168.49 535.92,165.79" fill="none" stroke="#1c9aff" stroke-width="1.1"/>
<polygon points="544.8,166.77 547.5,169.47 544.8,172.17 542.1,169.47" fill="none" stroke="#1c9aff" stroke-width="1.1"/>
<polygon points="524.48,155.44 528.28,155.44 528.28,159.24 524.48,159.24" fill="none" stroke="#ffa51e" stroke-width="1.1"/>
<polygon points="528.81,156.74 532.61,156.74 532.61,160.54 528.81,160.54" fill="none" stroke="#ffa51e" stroke-width="1.1"/>
<polygon points="532.6,157.82 536.4,157.82 536.4,161.62 532.6,161.62" fill="none" stroke="#ffa51e" stroke-width="1.1"/>
<polygon points="536.4,159.77 540.2,159.77 540.2,163.57 536.4,163.57" fill="none" stroke="#ffa51e" stroke-width="1.1"/>
<polygon points="542.9,163.24 546.7,163.24 546.7,167.04 542.9,167.04" fill="none" stroke="#ffa51e" stroke-width="1.1"/>
<polygon points="526.38,150.24 527.15,152.48 529.52,152.52 527.63,153.95 528.32,156.21 526.38,154.86 524.44,156.21 525.12,153.95 523.24,152.52 525.6,152.48" fill="none" stroke="#fa8072" stroke-width="0.9"/>
<polygon points="530.17,151.87 530.95,154.1 533.31,154.15 531.42,155.58 532.11,157.84 530.17,156.49 528.23,157.84 528.91,155.58 527.03,154.15 529.39,154.1" fill="none" stroke="#fa8072" stroke-width="0.9"/>
<polygon points="533.96,152.95 534.74,155.19 537.1,155.23 535.22,156.66 535.9,158.92 533.96,157.57 532.02,158.92 532.71,156.66 530.82,155.23 533.19,155.19" fill="none" stroke="#fa8072" stroke-width="0.9"/>
<polygon points="538.3,154.58 539.07,156.81 541.43,156.86 539.55,158.29 540.24,160.55 538.3,159.2 536.36,160.55 537.04,158.29 535.16,156.86 537.52,156.81" fill="none" stroke="#fa8072" stroke-width="0.9"/>
<polygon points="544.8,158.37 545.57,160.6 547.94,160.65 546.05,162.08 546.74,164.34 544.8,162.99 542.86,164.34 543.54,162.08 541.66,160.65 544.02,160.6" fill="none" stroke="#fa8072" stroke-width="0.9"/>
<polygon points="567.45,203.39 572.49,200.59 572.49,206.19" fill="#000080"/>
<polygon points="568.65,203.39 573.69,200.59 573.69,206.19" fill="#000080"/>
<polygon points="569.85,203.39 574.89,200.59 574.89,206.19" fill="#000080"/>
<polygon points="570.25,195.17 573.05,200.21 567.45,200.21" fill="#ff0000"/>
<polygon points="571.45,195.17 574.25,200.21 568.65,200.21" fill="#ff0000"/>
<polygon points="572.65,195.17 575.45,200.21 569.85,200.21" fill="#ff0000"/>
<polygon points="573.05,194.18 568.01,191.38 568.01,196.98" fill="#ff00ff"/>
<polygon points="574.25,194.18 569.21,191.38 569.21,196.98" fill="#ff00ff"/>
<polygon points="575.45,194.18 570.41,191.38 570.41,196.98" fill="#ff00ff"/>
<polygon points="570.25,193.18 573.05,188.14 567.45,188.14" fill="#00ff00"/>
<polygon points="571.45,193.18 574.25,188.14 568.65,188.14" fill="#00ff00"/>
<polygon points="572.65,193.18 575.45,188.14 569.85,188.14" fill="#00ff00"/>
<polygon points="571.56,181.73 574.26,184.43 571.56,187.13 568.86,184.43" fill="none" stroke="#1c9aff" stroke-width="1.1"/>
<polygon points="569.66,178.73 573.46,178.73 573.46,182.53 569.66,182.53" fill="none" stroke="#ffa51e" stroke-width="1.1"/>
<polygon points="571.56,175.17 572.34,177.4 574.7,177.45 572.82,178.87 573.5,181.14 571.56,179.79 569.62,181.14 570.31,178.87 568.42,177.45 570.78,177.4" fill="none" stroke="#fa8072" stroke-width="0.9"/>
<line x1="681.56" y1="260.47" x2="681.56" y2="267.97" stroke="#ff0000" stroke-width="1"/>
<polygon points="681.56,261.37 684.16,266.05 678.96,266.05" fill="none" stroke="#ff0000" stroke-width="1.1"/>
<polygon points="684.67,258.07 679.99,255.47 679.99,260.67" fill="none" stroke="#ff00ff" stroke-width="1.1"/>
<line x1="681.56" y1="251.2" x2="681.56" y2="259.2" stroke="#00ff00" stroke-width="1"/>
<polygon points="681.56,257.8 684.16,253.12 678.96,253.12" fill="none" stroke="#00ff00" stroke-width="1.1"/>
<g stroke="#1414ff" stroke-width="0.9" fill="none">
<path d="M260.77 510.9V528.58"/>
<path d="M259.67 520.42h2.2"/>
<path d="M261.34 511.1V522.93"/>
<path d="M260.24 516.41h2.2"/>
<path d="M261.89 505.14V522.85"/>
<path d="M260.79 514.15h2.2"/>
<path d="M262.48 519.18V528.94"/>
<path d="M261.38 523.52h2.2"/>
<path d="M263.25 518.89V534.61"/>
<path d="M262.15 526.7h2.2"/>
<path d="M264.03 517.92V536.68"/>
<path d="M262.93 526.89h2.2"/>
<path d="M264.53 502.65V529.96"/>
<path d="M263.43 517.16h2.2"/>
<path d="M265.14 510.39V535.76"/>
<path d="M264.04 523.63h2.2"/>
<path d="M265.96 495V529.99"/>
<path d="M264.86 511.93h2.2"/>
<path d="M266.56 492.8V538.24"/>
<path d="M265.46 515.72h2.2"/>
<path d="M267.28 492.7V538.55"/>
<path d="M266.18 515.98h2.2"/>
<path d="M267.81 498.84V530.9"/>
<path d="M266.71 514.97h2.2"/>
<path d="M268.29 504.37V537.95"/>
<path d="M267.19 521.44h2.2"/>
<path d="M268.78 504.48V541.4"/>
<path d="M267.68 522.51h2.2"/>
<path d="M269.35 514.26V539.07"/>
<path d="M268.25 526.38h2.2"/>
<path d="M269.97 519.37V542.92"/>
<path d="M268.87 530.54h2.2"/>
<path d="M270.72 489.49V528.81"/>
<path d="M269.62 509h2.2"/>
<path d="M271.5 518V541.64"/>
<path d="M270.4 529.14h2.2"/>
<path d="M271.96 518.16V532.21"/>
<path d="M270.86 524.37h2.2"/>
<path d="M272.66 520.27V549.95"/>
<path d="M271.56 534.67h2.2"/>
<path d="M273.32 517.49V544.52"/>
<path d="M272.22 531.61h2.2"/>
<path d="M274.16 510.88V537.29"/>
<path d="M273.06 525.03h2.2"/>
<path d="M274.8 517.11V548.8"/>
<path d="M273.7 533.76h2.2"/>
<path d="M275.5 527.65V543.69"/>
<path d="M274.4 535.11h2.2"/>
<path d="M276.12 534.85V553.36"/>
<path d="M275.02 543.54h2.2"/>
<path d="M276.73 532.09V554.7"/>
<path d="M275.63 542.89h2.2"/>
<path d="M277.47 530.66V549.82"/>
<path d="M276.37 540.75h2.2"/>
<path d="M277.94 532.28V549.95"/>
<path d="M276.84 541.22h2.2"/>
<path d="M278.65 526.81V551.34"/>
<path d="M277.55 538.93h2.2"/>
<path d="M279.36 537.86V559"/>
<path d="M278.26 548.67h2.2"/>
<path d="M280.01 530.49V550.71"/>
<path d="M278.91 540.52h2.2"/>
<path d="M280.54 537.24V559.75"/>
<path d="M279.44 548.35h2.2"/>
<path d="M281.03 541.21V561.25"/>
<path d="M279.93 551.5h2.2"/>
<path d="M281.52 544.1V556.68"/>
<path d="M280.42 549.5h2.2"/>
<path d="M282.17 546.5V562.03"/>
<path d="M281.07 554.98h2.2"/>
<path d="M283.02 546.85V562.67"/>
<path d="M281.92 555.72h2.2"/>
<path d="M283.67 546.56V561.89"/>
<path d="M282.57 554.8h2.2"/>
<path d="M284.49 532.13V552.96"/>
<path d="M283.39 541.86h2.2"/>
<path d="M285.3 531.64V558.84"/>
<path d="M284.2 545.25h2.2"/>
<path d="M286.12 527.92V552.89"/>
<path d="M285.02 540.04h2.2"/>
<path d="M286.59 526.26V545.77"/>
<path d="M285.49 536.38h2.2"/>
<path d="M287.4 525.47V554.86"/>
<path d="M286.3 540.22h2.2"/>
<path d="M288.1 537.3V549.31"/>
<path d="M287 543.47h2.2"/>
<path d="M288.91 525.79V548.93"/>
<path d="M287.81 537.15h2.2"/>
<path d="M289.68 526.08V550.35"/>
<path d="M288.58 537.94h2.2"/>
<path d="M290.43 535.44V549.49"/>
<path d="M289.33 541.56h2.2"/>
<path d="M291.21 534.32V548.75"/>
<path d="M290.11 541.71h2.2"/>
<path d="M291.93 538.26V559.49"/>
<path d="M290.83 548.18h2.2"/>
<path d="M292.63 549.93V555.35"/>
<path d="M291.53 551.91h2.2"/>
<path d="M293.17 551.6V563.83"/>
<path d="M292.07 557.42h2.2"/>
<path d="M293.67 555.82V562.93"/>
<path d="M292.57 559.56h2.2"/>
<path d="M294.21 560.25V567.55"/>
<path d="M293.11 564.77h2.2"/>
<path d="M294.97 560.11V567.3"/>
<path d="M293.87 564.45h2.2"/>
<path d="M295.89 563.42V570.13"/>
<path d="M294.79 567.07h2.2"/>
<path d="M296.74 566.58V570.16"/>
<path d="M295.64 569.24h2.2"/>
<path d="M297.65 567.48V570.9"/>
<path d="M296.55 569.25h2.2"/>
<path d="M298.45 567.04V570.25"/>
<path d="M297.35 567.67h2.2"/>
<path d="M299.3 569.9V573.29"/>
<path d="M298.2 571.81h2.2"/>
<path d="M300.14 570.55V572.86"/>
<path d="M299.04 571.33h2.2"/>
<path d="M300.91 568.81V570.37"/>
<path d="M299.81 570.02h2.2"/>
<path d="M301.6 569.86V571.96"/>
<path d="M300.5 571.4h2.2"/>
<path d="M302.42 566.31V569.46"/>
<path d="M301.32 566.97h2.2"/>
<path d="M303.2 567.23V569.22"/>
<path d="M302.1 568.65h2.2"/>
<path d="M303.97 565.62V568.02"/>
<path d="M302.87 566.87h2.2"/>
<path d="M304.73 566.01V568.46"/>
<path d="M303.63 567.99h2.2"/>
<path d="M305.42 563.72V566.4"/>
<path d="M304.32 565.95h2.2"/>
<path d="M306.33 564.09V566.51"/>
<path d="M305.23 564.78h2.2"/>
<path d="M307.29 564.13V566.38"/>
<path d="M306.19 566.22h2.2"/>
<path d="M308.11 560.41V563.15"/>
<path d="M307.01 561.65h2.2"/>
<path d="M309.02 553.06V565.02"/>
<path d="M307.92 559.29h2.2"/>
<path d="M309.72 547.65V565.97"/>
<path d="M308.62 556.02h2.2"/>
<path d="M310.69 552.23V567.62"/>
<path d="M309.59 559.01h2.2"/>
<path d="M311.58 561.6V565.72"/>
<path d="M310.48 562.79h2.2"/>
<path d="M312.44 564.44V566.99"/>
<path d="M311.34 566.5h2.2"/>
<path d="M313.15 565.96V569.34"/>
<path d="M312.05 566.87h2.2"/>
<path d="M313.89 564.59V568.53"/>
<path d="M312.79 567.18h2.2"/>
<path d="M314.77 568.9V571.99"/>
<path d="M313.67 569.65h2.2"/>
<path d="M315.48 568.75V572.21"/>
<path d="M314.38 570.33h2.2"/>
<path d="M316.17 568.04V570.77"/>
<path d="M315.07 569.14h2.2"/>
<path d="M316.95 570.84V573"/>
<path d="M315.85 572.16h2.2"/>
<path d="M317.64 569.81V571.98"/>
<path d="M316.54 570.59h2.2"/>
<path d="M318.54 570.65V572.75"/>
<path d="M317.44 570.89h2.2"/>
<path d="M319.47 569V572.78"/>
<path d="M318.37 571.41h2.2"/>
<path d="M320.45 568.43V572.04"/>
<path d="M319.35 570.83h2.2"/>
<path d="M321.19 568.89V572.14"/>
<path d="M320.09 570.04h2.2"/>
<path d="M322.16 567.26V570.82"/>
<path d="M321.06 569.03h2.2"/>
<path d="M322.88 567.93V571.25"/>
<path d="M321.78 569.98h2.2"/>
<path d="M323.8 568.9V571.56"/>
<path d="M322.7 570.02h2.2"/>
<path d="M324.75 568.45V570.16"/>
<path d="M323.65 568.72h2.2"/>
</g>
<g stroke="#1414ff" stroke-width="1" fill="none">
<path d="M308.86 550.84V567.7"/>
<path d="M309.37 541.06V568.55"/>
<path d="M310.04 552.52V569.05"/>
<path d="M325.9 558.43H331.8M328.93 552.52V564.33"/>
<path d="M331.8 547.8H338.04M334.84 537.35V558.43"/>
<path d="M338.55 550.5H344.45M341.58 541.56V560.11"/>
<path d="M344.79 547.13H350.86M347.82 537.01V557.58"/>
<path d="M350.86 567.37H363.34M357.27 563.49V571.08"/>
<path d="M364.18 562.98H372.62M368.4 558.43V567.7"/>
<path d="M373.12 551.68H381.22M377.68 542.41V560.96"/>
<path d="M381.56 562.31H389.99M385.77 556.74V567.7"/>
<path d="M391.51 560.97H397.83M395.3 555.15V566.79"/>
<path d="M397.83 556.16H404.67M401.12 548.83V563.5"/>
<path d="M469.7 557.18H471.21M470.46 550.85V564.26"/>
<path d="M471.72 559.71H473.24M472.48 553.38V566.03"/>
<path d="M473.74 553.38H475.26M474.5 545.79V560.97"/>
<path d="M475.52 550.34H477.03M476.28 541.49V558.95"/>
<path d="M486.9 564.77H490.7M488.67 560.97V568.56"/>
<path d="M513.47 557.94H514.99M514.23 552.12V564.77"/>
<path d="M514.99 563H517.77M516.26 558.95V567.3"/>
<path d="M537.76 566.54H539.79M538.78 561.73V570.59"/>
<path d="M539.79 554.14H541.56M540.55 546.3V562.24"/>
<path d="M555.48 552.87H558.26M556.74 545.79V560.47"/>
<path d="M569.54 546.51H592.68M576.48 534.08V558.08"/>
<path d="M599.91 560.1H632.87M615.52 553.16V566.76"/>
<path d="M635.19 548.25H687.82M656.3 535.52V560.97"/>
</g>
<line x1="83" y1="541.56" x2="198.91" y2="541.56" stroke="#4d4d4d" stroke-width="1"/>
<line x1="157.59" y1="530.6" x2="157.59" y2="552.52" stroke="#4d4d4d" stroke-width="1"/>
<path d="M154.69 538.66L160.49 544.46M154.69 544.46L160.49 538.66" stroke="#4d4d4d" stroke-width="0.9" fill="none"/>
<line x1="202.79" y1="506.99" x2="202.79" y2="523.01" stroke="#4d4d4d" stroke-width="1"/>
<path d="M199.89 512.18L205.69 517.98M199.89 517.98L205.69 512.18" stroke="#4d4d4d" stroke-width="0.9" fill="none"/>
<path d="M200.39 515.08L205.19 515.08M202.79 515.08L202.79 515.08" stroke="#4d4d4d" stroke-width="0.8" fill="none"/>
<line x1="210.21" y1="504.46" x2="210.21" y2="516.26" stroke="#4d4d4d" stroke-width="1"/>
<path d="M207.31 507.46L213.11 513.26M207.31 513.26L213.11 507.46" stroke="#4d4d4d" stroke-width="0.9" fill="none"/>
<path d="M207.81 510.36L212.61 510.36M210.21 510.36L210.21 510.36" stroke="#4d4d4d" stroke-width="0.8" fill="none"/>
<line x1="215.27" y1="510.36" x2="215.27" y2="525.54" stroke="#4d4d4d" stroke-width="1"/>
<path d="M212.37 514.54L218.17 520.34M212.37 520.34L218.17 514.54" stroke="#4d4d4d" stroke-width="0.9" fill="none"/>
<path d="M212.87 517.44L217.67 517.44M215.27 517.44L215.27 517.44" stroke="#4d4d4d" stroke-width="0.8" fill="none"/>
<line x1="217.97" y1="522.17" x2="217.97" y2="539.03" stroke="#4d4d4d" stroke-width="1"/>
<path d="M215.07 527.36L220.87 533.16M215.07 533.16L220.87 527.36" stroke="#4d4d4d" stroke-width="0.9" fill="none"/>
<path d="M215.57 530.26L220.37 530.26M217.97 530.26L217.97 530.26" stroke="#4d4d4d" stroke-width="0.8" fill="none"/>
<line x1="222.02" y1="520.48" x2="222.02" y2="554.21" stroke="#4d4d4d" stroke-width="1"/>
<line x1="217.97" y1="537.68" x2="224.21" y2="537.68" stroke="#4d4d4d" stroke-width="1"/>
<path d="M219.12 534.78L224.92 540.58M219.12 540.58L224.92 534.78" stroke="#4d4d4d" stroke-width="0.9" fill="none"/>
<path d="M219.62 537.68L224.42 537.68M222.02 537.68L222.02 537.68" stroke="#4d4d4d" stroke-width="0.8" fill="none"/>
<line x1="235.51" y1="505.3" x2="235.51" y2="567.7" stroke="#4d4d4d" stroke-width="1"/>
<line x1="224.21" y1="536.84" x2="245.29" y2="536.84" stroke="#4d4d4d" stroke-width="1"/>
<path d="M232.61 533.94L238.41 539.74M232.61 539.74L238.41 533.94" stroke="#4d4d4d" stroke-width="0.9" fill="none"/>
<path d="M233.11 536.84L237.91 536.84M235.51 536.84L235.51 536.84" stroke="#4d4d4d" stroke-width="0.8" fill="none"/>
<line x1="247.49" y1="539.03" x2="247.49" y2="562.64" stroke="#4d4d4d" stroke-width="1"/>
<path d="M244.59 547.94L250.39 553.74M244.59 553.74L250.39 547.94" stroke="#4d4d4d" stroke-width="0.9" fill="none"/>
<path d="M245.09 550.84L249.89 550.84M247.49 550.84L247.49 550.84" stroke="#4d4d4d" stroke-width="0.8" fill="none"/>
<line x1="262.5" y1="535.66" x2="262.5" y2="552.52" stroke="#4d4d4d" stroke-width="1"/>
<path d="M259.6 541.53L265.4 547.33M259.6 547.33L265.4 541.53" stroke="#4d4d4d" stroke-width="0.9" fill="none"/>
<path d="M260.1 544.43L264.9 544.43M262.5 544.43L262.5 544.43" stroke="#4d4d4d" stroke-width="0.8" fill="none"/>
<line x1="264.69" y1="530.6" x2="264.69" y2="540.72" stroke="#4d4d4d" stroke-width="1"/>
<path d="M261.79 532.76L267.59 538.56M261.79 538.56L267.59 532.76" stroke="#4d4d4d" stroke-width="0.9" fill="none"/>
<path d="M262.29 535.66L267.09 535.66M264.69 535.66L264.69 535.66" stroke="#4d4d4d" stroke-width="0.8" fill="none"/>
<line x1="266.88" y1="516.26" x2="266.88" y2="531.44" stroke="#4d4d4d" stroke-width="1"/>
<path d="M263.98 520.95L269.78 526.75M263.98 526.75L269.78 520.95" stroke="#4d4d4d" stroke-width="0.9" fill="none"/>
<path d="M264.48 523.85L269.28 523.85M266.88 523.85L266.88 523.85" stroke="#4d4d4d" stroke-width="0.8" fill="none"/>
<line x1="269.24" y1="528.07" x2="269.24" y2="539.88" stroke="#4d4d4d" stroke-width="1"/>
<path d="M266.34 531.07L272.14 536.87M266.34 536.87L272.14 531.07" stroke="#4d4d4d" stroke-width="0.9" fill="none"/>
<path d="M266.84 533.97L271.64 533.97M269.24 533.97L269.24 533.97" stroke="#4d4d4d" stroke-width="0.8" fill="none"/>
<line x1="265.87" y1="550.84" x2="265.87" y2="571.92" stroke="#4d4d4d" stroke-width="1"/>
<path d="M262.97 558.56L268.77 564.36M262.97 564.36L268.77 558.56" stroke="#4d4d4d" stroke-width="0.9" fill="none"/>
<path d="M263.47 561.46L268.27 561.46M265.87 561.46L265.87 561.46" stroke="#4d4d4d" stroke-width="0.8" fill="none"/>
<line x1="273.97" y1="535.66" x2="273.97" y2="552.52" stroke="#4d4d4d" stroke-width="1"/>
<path d="M271.07 540.85L276.87 546.65M271.07 546.65L276.87 540.85" stroke="#4d4d4d" stroke-width="0.9" fill="none"/>
<path d="M271.57 543.75L276.37 543.75M273.97 543.75L273.97 543.75" stroke="#4d4d4d" stroke-width="0.8" fill="none"/>
<line x1="284.09" y1="513.73" x2="284.09" y2="570.23" stroke="#8a8a8a" stroke-width="1"/>
<line x1="274.81" y1="542.41" x2="293.36" y2="542.41" stroke="#4d4d4d" stroke-width="1"/>
<path d="M281.19 539.51L286.99 545.31M281.19 545.31L286.99 539.51" stroke="#4d4d4d" stroke-width="0.9" fill="none"/>
<path d="M281.69 542.41L286.49 542.41M284.09 542.41L284.09 542.41" stroke="#4d4d4d" stroke-width="0.8" fill="none"/>
<g stroke="#000" stroke-width="0.9" fill="none">
<rect x="83" y="32.2" width="705.9" height="549.2"/>
<line x1="83" y1="484.4" x2="788.9" y2="484.4"/>
<path d="M90.33 32.2v4M90.33 480.4v8M90.33 581.4v-4M96.6 32.2v8.4M96.6 476v16.8M96.6 581.4v-8.4M137.83 32.2v4M137.83 480.4v8M137.83 581.4v-4M161.94 32.2v4M161.94 480.4v8M161.94 581.4v-4M179.05 32.2v4M179.05 480.4v8M179.05 581.4v-4M192.32 32.2v4M192.32 480.4v8M192.32 581.4v-4M203.17 32.2v4M203.17 480.4v8M203.17 581.4v-4M212.34 32.2v4M212.34 480.4v8M212.34 581.4v-4M220.28 32.2v4M220.28 480.4v8M220.28 581.4v-4M227.28 32.2v4M227.28 480.4v8M227.28 581.4v-4M233.55 32.2v8.4M233.55 476v16.8M233.55 581.4v-8.4M274.78 32.2v4M274.78 480.4v8M274.78 581.4v-4M298.89 32.2v4M298.89 480.4v8M298.89 581.4v-4M316 32.2v4M316 480.4v8M316 581.4v-4M329.27 32.2v4M329.27 480.4v8M329.27 581.4v-4M340.12 32.2v4M340.12 480.4v8M340.12 581.4v-4M349.29 32.2v4M349.29 480.4v8M349.29 581.4v-4M357.23 32.2v4M357.23 480.4v8M357.23 581.4v-4M364.23 32.2v4M364.23 480.4v8M364.23 581.4v-4M370.5 32.2v8.4M370.5 476v16.8M370.5 581.4v-8.4M411.73 32.2v4M411.73 480.4v8M411.73 581.4v-4M435.84 32.2v4M435.84 480.4v8M435.84 581.4v-4M452.95 32.2v4M452.95 480.4v8M452.95 581.4v-4M466.22 32.2v4M466.22 480.4v8M466.22 581.4v-4M477.07 32.2v4M477.07 480.4v8M477.07 581.4v-4M486.24 32.2v4M486.24 480.4v8M486.24 581.4v-4M494.18 32.2v4M494.18 480.4v8M494.18 581.4v-4M501.18 32.2v4M501.18 480.4v8M501.18 581.4v-4M507.45 32.2v8.4M507.45 476v16.8M507.45 581.4v-8.4M548.68 32.2v4M548.68 480.4v8M548.68 581.4v-4M572.79 32.2v4M572.79 480.4v8M572.79 581.4v-4M589.9 32.2v4M589.9 480.4v8M589.9 581.4v-4M603.17 32.2v4M603.17 480.4v8M603.17 581.4v-4M614.02 32.2v4M614.02 480.4v8M614.02 581.4v-4M623.19 32.2v4M623.19 480.4v8M623.19 581.4v-4M631.13 32.2v4M631.13 480.4v8M631.13 581.4v-4M638.13 32.2v4M638.13 480.4v8M638.13 581.4v-4M644.4 32.2v8.4M644.4 476v16.8M644.4 581.4v-8.4M685.63 32.2v4M685.63 480.4v8M685.63 581.4v-4M709.74 32.2v4M709.74 480.4v8M709.74 581.4v-4M726.85 32.2v4M726.85 480.4v8M726.85 581.4v-4M740.12 32.2v4M740.12 480.4v8M740.12 581.4v-4M750.97 32.2v4M750.97 480.4v8M750.97 581.4v-4M760.14 32.2v4M760.14 480.4v8M760.14 581.4v-4M768.08 32.2v4M768.08 480.4v8M768.08 581.4v-4M775.08 32.2v4M775.08 480.4v8M775.08 581.4v-4M781.35 32.2v8.4M781.35 476v16.8M781.35 581.4v-8.4M83 38.65h7M788.9 38.65h-7M83 48.35h7M788.9 48.35h-7M83 64.45h7M788.9 64.45h-7M83 125.85h14M788.9 125.85h-14M83 129.55h7M788.9 129.55h-7M83 132.75h7M788.9 132.75h-7M83 136.55h7M788.9 136.55h-7M83 140.75h7M788.9 140.75h-7M83 146.15h7M788.9 146.15h-7M83 153.05h7M788.9 153.05h-7M83 162.75h7M788.9 162.75h-7M83 178.85h7M788.9 178.85h-7M83 240.25h14M788.9 240.25h-14M83 243.95h7M788.9 243.95h-7M83 247.15h7M788.9 247.15h-7M83 250.95h7M788.9 250.95h-7M83 255.15h7M788.9 255.15h-7M83 260.55h7M788.9 260.55h-7M83 267.45h7M788.9 267.45h-7M83 277.15h7M788.9 277.15h-7M83 293.25h7M788.9 293.25h-7M83 354.65h14M788.9 354.65h-14M83 358.35h7M788.9 358.35h-7M83 361.55h7M788.9 361.55h-7M83 365.35h7M788.9 365.35h-7M83 369.55h7M788.9 369.55h-7M83 374.95h7M788.9 374.95h-7M83 381.85h7M788.9 381.85h-7M83 391.55h7M788.9 391.55h-7M83 407.65h7M788.9 407.65h-7M83 469.05h14M788.9 469.05h-14M83 472.75h7M788.9 472.75h-7M83 475.95h7M788.9 475.95h-7M83 479.75h7M788.9 479.75h-7M83 483.95h7M788.9 483.95h-7M83 574.96h7M788.9 574.96h-7M83 568.52h7M788.9 568.52h-7M83 562.08h7M788.9 562.08h-7M83 555.64h7M788.9 555.64h-7M83 549.2h13.6M788.9 549.2h-13.6M83 542.76h7M788.9 542.76h-7M83 536.32h7M788.9 536.32h-7M83 529.88h7M788.9 529.88h-7M83 523.44h7M788.9 523.44h-7M83 517h13.6M788.9 517h-13.6M83 510.56h7M788.9 510.56h-7M83 504.12h7M788.9 504.12h-7M83 497.68h7M788.9 497.68h-7M83 491.24h7M788.9 491.24h-7M83 484.8h13.6M788.9 484.8h-13.6"/>
</g>
<text x="79.8" y="124.65" font-family='"Liberation Sans", sans-serif' font-size="15.3" text-anchor="end" fill="#000">0</text>
<text x="70.86" y="131.15" font-family='"Liberation Sans", sans-serif' font-size="15.3" text-anchor="end" fill="#000">10</text>
<text x="79.8" y="239.05" font-family='"Liberation Sans", sans-serif' font-size="15.3" text-anchor="end" fill="#000">-2</text>
<text x="65.86" y="245.55" font-family='"Liberation Sans", sans-serif' font-size="15.3" text-anchor="end" fill="#000">10</text>
<text x="79.8" y="353.45" font-family='"Liberation Sans", sans-serif' font-size="15.3" text-anchor="end" fill="#000">-4</text>
<text x="65.86" y="359.95" font-family='"Liberation Sans", sans-serif' font-size="15.3" text-anchor="end" fill="#000">10</text>
<text x="79.8" y="467.85" font-family='"Liberation Sans", sans-serif' font-size="15.3" text-anchor="end" fill="#000">-6</text>
<text x="65.86" y="474.35" font-family='"Liberation Sans", sans-serif' font-size="15.3" text-anchor="end" fill="#000">10</text>
<text x="79.4" y="493.5" font-family='"Liberation Sans", sans-serif' font-size="15.3" text-anchor="end" fill="#000">3</text>
<text x="79.4" y="521.7" font-family='"Liberation Sans", sans-serif' font-size="15.3" text-anchor="end" fill="#000">2</text>
<text x="79.4" y="554.2" font-family='"Liberation Sans", sans-serif' font-size="15.3" text-anchor="end" fill="#000">1</text>
<text x="79.4" y="581.5" font-family='"Liberation Sans", sans-serif' font-size="15.3" text-anchor="end" fill="#000">0</text>
<text x="100" y="600.5" font-family='"Liberation Sans", sans-serif' font-size="15.3" text-anchor="end" fill="#000">10</text>
<text x="100.6" y="592.7" font-family='"Liberation Sans", sans-serif' font-size="15.3" text-anchor="start" fill="#000">1</text>
<text x="236.95" y="600.5" font-family='"Liberation Sans", sans-serif' font-size="15.3" text-anchor="end" fill="#000">10</text>
<text x="237.55" y="592.7" font-family='"Liberation Sans", sans-serif' font-size="15.3" text-anchor="start" fill="#000">2</text>
<text x="373.9" y="600.5" font-family='"Liberation Sans", sans-serif' font-size="15.3" text-anchor="end" fill="#000">10</text>
<text x="374.5" y="592.7" font-family='"Liberation Sans", sans-serif' font-size="15.3" text-anchor="start" fill="#000">3</text>
<text x="510.85" y="600.5" font-family='"Liberation Sans", sans-serif' font-size="15.3" text-anchor="end" fill="#000">10</text>
<text x="511.45" y="592.7" font-family='"Liberation Sans", sans-serif' font-size="15.3" text-anchor="start" fill="#000">4</text>
<text x="647.8" y="600.5" font-family='"Liberation Sans", sans-serif' font-size="15.3" text-anchor="end" fill="#000">10</text>
<text x="648.4" y="592.7" font-family='"Liberation Sans", sans-serif' font-size="15.3" text-anchor="start" fill="#000">5</text>
<text x="784.75" y="600.5" font-family='"Liberation Sans", sans-serif' font-size="15.3" text-anchor="end" fill="#000">10</text>
<text x="785.35" y="592.7" font-family='"Liberation Sans", sans-serif' font-size="15.3" text-anchor="start" fill="#000">6</text>
<text x="436" y="617" font-family='"Liberation Sans", sans-serif' font-size="15.3" text-anchor="middle" fill="#000">Seconds Since Burst</text>
<text transform="translate(35.9 257.8) rotate(-90)" font-family='"Liberation Sans", sans-serif' font-size="15.3" text-anchor="middle" fill="#000">Flux Density (mJy)</text>
<text transform="translate(58.9 532.8) rotate(-90)" font-family='"Liberation Sans", sans-serif' font-size="15.3" text-anchor="middle" fill="#000">Hardness Ratio</text>
<text x="212.2" y="48.9" font-family='"Liberation Sans", sans-serif' font-size="12.2" text-anchor="middle" fill="#000">1</text>
<text x="267.4" y="48.9" font-family='"Liberation Sans", sans-serif' font-size="12.2" text-anchor="middle" fill="#000">2</text>
<text x="289.2" y="48.9" font-family='"Liberation Sans", sans-serif' font-size="12.2" text-anchor="middle" fill="#000">3</text>
<text x="310.1" y="48.9" font-family='"Liberation Sans", sans-serif' font-size="12.2" text-anchor="middle" fill="#000">4</text>
<text x="396.6" y="48.9" font-family='"Liberation Sans", sans-serif' font-size="12.2" text-anchor="middle" fill="#000">5</text>
<text x="571.5" y="48.9" font-family='"Liberation Sans", sans-serif' font-size="12.2" text-anchor="middle" fill="#000">6</text>
<text x="122.6" y="331.7" font-family='"Liberation Sans", sans-serif' font-size="12.2" text-anchor="start" fill="#4d4d4d">BAT</text>
<path d="M104.7 323.3L110.7 329.3M104.7 329.3L110.7 323.3" stroke="#4d4d4d" stroke-width="0.9" fill="none"/>
<text x="122.6" y="349.67" font-family='"Liberation Sans", sans-serif' font-size="12.2" text-anchor="start" fill="#1414ff">XRT</text>
<path d="M104.7 344.27L110.7 344.27M107.7 341.27L107.7 347.27" stroke="#1414ff" stroke-width="0.9" fill="none"/>
<text x="122.6" y="367.64" font-family='"Liberation Sans", sans-serif' font-size="12.2" text-anchor="start" fill="#ff0000">ROTSE-III -&gt; r&#8217;</text>
<circle cx="107.7" cy="362.24" r="2.3" fill="#ff0000"/>
<text x="122.6" y="385.61" font-family='"Liberation Sans", sans-serif' font-size="12.2" text-anchor="start" fill="#7f7f7f">UVOT WHITE -&gt; U</text>
<polygon points="105.4,377.91 110,377.91 110,382.51 105.4,382.51" fill="#7f7f7f"/>
<text x="122.6" y="403.58" font-family='"Liberation Sans", sans-serif' font-size="12.2" text-anchor="start" fill="#ff00ff">UVOT UVW1 -&gt; U</text>
<polygon points="107.7,394.58 108.55,397.02 111.12,397.07 109.07,398.62 109.82,401.09 107.7,399.62 105.58,401.09 106.33,398.62 104.28,397.07 106.85,397.02" fill="#ff00ff"/>
<text x="122.6" y="421.55" font-family='"Liberation Sans", sans-serif' font-size="12.2" text-anchor="start" fill="#00ff00">UVOT U</text>
<polygon points="107.7,413.45 110.4,418.31 105,418.31" fill="#00ff00"/>
<text x="122.6" y="439.52" font-family='"Liberation Sans", sans-serif' font-size="12.2" text-anchor="start" fill="#1c9aff">UVOT B -&gt; U</text>
<polygon points="107.7,431.22 110.6,434.12 107.7,437.02 104.8,434.12" fill="#1c9aff"/>
<text x="122.6" y="457.49" font-family='"Liberation Sans", sans-serif' font-size="12.2" text-anchor="start" fill="#ffa51e">UVOT V -&gt; U</text>
<polygon points="107.7,454.79 110.4,449.93 105,449.93" fill="#ffa51e"/>
<text x="253" y="349.67" font-family='"Liberation Sans", sans-serif' font-size="12.2" text-anchor="start" fill="#000080">GROND g&#8217;</text>
<polygon points="235.8,344.47 240.48,341.87 240.48,347.07" fill="none" stroke="#000080" stroke-width="1.1"/>
<text x="253" y="367.64" font-family='"Liberation Sans", sans-serif' font-size="12.2" text-anchor="start" fill="#ff0000">GROND r&#8217;</text>
<polygon points="238.4,359.84 241,364.52 235.8,364.52" fill="none" stroke="#ff0000" stroke-width="1.1"/>
<text x="253" y="385.61" font-family='"Liberation Sans", sans-serif' font-size="12.2" text-anchor="start" fill="#ff00ff">GROND i&#8217;</text>
<polygon points="241,380.41 236.32,377.81 236.32,383.01" fill="none" stroke="#ff00ff" stroke-width="1.1"/>
<text x="253" y="403.58" font-family='"Liberation Sans", sans-serif' font-size="12.2" text-anchor="start" fill="#00ff00">GROND z&#8217;</text>
<polygon points="238.4,400.98 241,396.3 235.8,396.3" fill="none" stroke="#00ff00" stroke-width="1.1"/>
<text x="253" y="421.55" font-family='"Liberation Sans", sans-serif' font-size="12.2" text-anchor="start" fill="#1c9aff">GROND J</text>
<polygon points="238.4,413.75 241,416.35 238.4,418.95 235.8,416.35" fill="none" stroke="#1c9aff" stroke-width="1.1"/>
<text x="253" y="439.52" font-family='"Liberation Sans", sans-serif' font-size="12.2" text-anchor="start" fill="#ffa51e">GROND H</text>
<polygon points="236.3,432.22 240.5,432.22 240.5,436.42 236.3,436.42" fill="none" stroke="#ffa51e" stroke-width="1.1"/>
<text x="253" y="457.49" font-family='"Liberation Sans", sans-serif' font-size="12.2" text-anchor="start" fill="#fa8072">GROND K</text>
<polygon points="238.4,448.89 239.2,451.19 241.63,451.24 239.69,452.71 240.4,455.04 238.4,453.65 236.4,455.04 237.11,452.71 235.17,451.24 237.6,451.19" fill="none" stroke="#fa8072" stroke-width="0.9"/>
<text x="122.4" y="514.8" font-family='"Liberation Sans", sans-serif' font-size="13.8" text-anchor="start" fill="#4d4d4d">BAT x 2.5</text>
<path d="M104.4 507.1L110.8 513.5M104.4 513.5L110.8 507.1" stroke="#4d4d4d" stroke-width="0.9" fill="none"/>
<text x="122.4" y="532.1" font-family='"Liberation Sans", sans-serif' font-size="13.8" text-anchor="start" fill="#1414ff">XRT</text>
<path d="M104.4 527.6L110.8 527.6M107.6 524.4L107.6 530.8" stroke="#1414ff" stroke-width="0.9" fill="none"/>
</svg>
</body></html>
